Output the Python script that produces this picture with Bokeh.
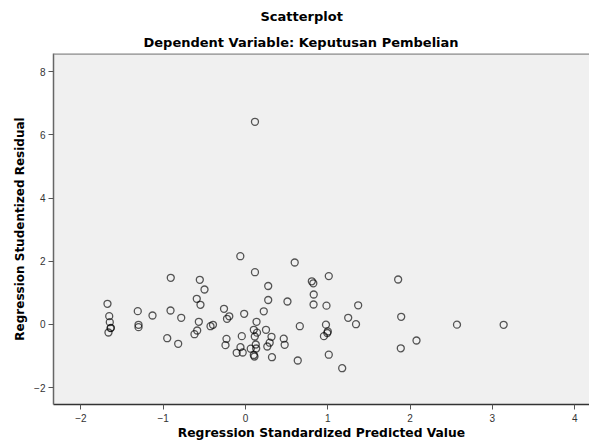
from bokeh.plotting import figure
from bokeh.models import Title, FixedTicker, Range1d, Span
from bokeh.embed import file_html
from bokeh.resources import INLINE

# Regression standardized predicted value (x) and studentized residual (y)
pred_std = [-1.677, -1.656, -1.649, -1.640, -1.635, -1.665, -1.309, -1.300, -1.300, -1.130,
            -0.908, -0.911, -0.781, -0.951, -0.818, -0.555, -0.498, -0.592, -0.547, -0.567,
            -0.587, -0.620, -0.425, -0.395, -0.261, -0.225, -0.197, -0.063, 0.115, 0.115,
            -0.016, -0.231, -0.243, -0.107, -0.034, -0.061, -0.045, 0.134, 0.101, 0.140,
            0.113, 0.125, 0.130, 0.064, 0.101, 0.109, 0.276, 0.276, 0.222, 0.249,
            0.316, 0.294, 0.265, 0.322, 0.598, 0.510, 0.465, 0.476, 0.635, 0.660,
            0.806, 0.824, 0.829, 0.827, 0.984, 1.012, 0.978, 0.953, 0.994, 1.000,
            1.012, 1.175, 1.248, 1.343, 1.369, 1.855, 1.892, 1.887, 2.078, 2.570,
            3.137]
stud_resid = [0.655, 0.263, 0.073, -0.117, -0.105, -0.253, 0.421, -0.009, -0.085, 0.285,
              1.478, 0.443, 0.212, -0.434, -0.611, 1.415, 1.108, 0.813, 0.623, 0.085,
              -0.190, -0.307, -0.054, -0.009, 0.497, 0.180, 0.259, 2.161, 6.415, 1.655,
              0.339, -0.453, -0.655, -0.896, -0.886, -0.718, -0.370, 0.085, -0.168, -0.259,
              -0.380, -0.633, -0.759, -0.766, -0.965, -1.013, 1.218, 0.775, 0.418, -0.168,
              -0.389, -0.576, -0.696, -1.035, 1.962, 0.728, -0.449, -0.642, -1.139, -0.054,
              1.367, 1.304, 0.949, 0.633, 0.595, 1.532, -0.006, -0.370, -0.269, -0.220,
              -0.956, -1.383, 0.212, 0.009, 0.608, 1.424, 0.244, -0.753, -0.506, -0.006,
              -0.009]

x_ticks = [-2, -1, 0, 1, 2, 3, 4]
y_ticks = [-2, 0, 2, 4, 6, 8]

title_main = "Scatterplot"
title_sub = "Dependent Variable: Keputusan Pembelian"
x_label = "Regression Standardized Predicted Value"
y_label = "Regression Studentized Residual"

p = figure(width=589, height=448, output_backend="svg", toolbar_location=None,
           x_range=Range1d(-2.333, 4.180), y_range=Range1d(-2.532, 8.576),
           min_border_left=53, min_border_top=53, min_border_bottom=44, min_border_right=0)

p.background_fill_color = "#F0F0F0"
p.border_fill_color = "white"
p.outline_line_color = None
p.grid.visible = False

# top frame border (right side of the frame lies outside the picture)
p.add_layout(Span(location=p.y_range.end, dimension="width",
                  line_color="#8C8C8C", line_width=2.5))

p.add_layout(Title(text=title_sub, align="left", offset=90, standoff=7,
                   text_font="DejaVu Sans", text_font_size="13px",
                   text_font_style="bold", text_color="#000000"), "above")
p.add_layout(Title(text=title_main, align="left", offset=207, standoff=11,
                   text_font="DejaVu Sans", text_font_size="13px",
                   text_font_style="bold", text_color="#000000"), "above")

for ax, ticks, lab in ((p.xaxis[0], x_ticks, x_label), (p.yaxis[0], y_ticks, y_label)):
    ax.ticker = FixedTicker(ticks=ticks)
    ax.axis_label = lab
    ax.axis_label_text_font = "DejaVu Sans"
    ax.axis_label_text_font_style = "bold"
    ax.axis_label_text_color = "#000000"
    ax.major_label_text_font = "Liberation Sans"
    ax.major_label_text_font_size = "10px"
    ax.major_label_text_color = "#333333"
    ax.major_tick_out = 5
    ax.major_tick_in = 0
    ax.minor_tick_out = 0
    ax.minor_tick_in = 0
    ax.major_tick_line_color = "#555555"
    ax.axis_line_width = 1.5

p.xaxis.axis_label_text_font_size = "12.3px"
p.yaxis.axis_label_text_font_size = "12px"
p.xaxis.axis_label_standoff = 1
p.xaxis.major_label_standoff = 4
p.yaxis.axis_label_standoff = 4
p.yaxis.major_label_standoff = 3
p.xaxis.axis_line_color = "#333333"
p.yaxis.axis_line_color = "#666666"

p.scatter(pred_std, stud_resid, marker="circle", size=7, fill_color=None,
          line_color="#000000", line_alpha=0.65, line_width=1.3)

open("out.html", "w").write(file_html(p, INLINE))
